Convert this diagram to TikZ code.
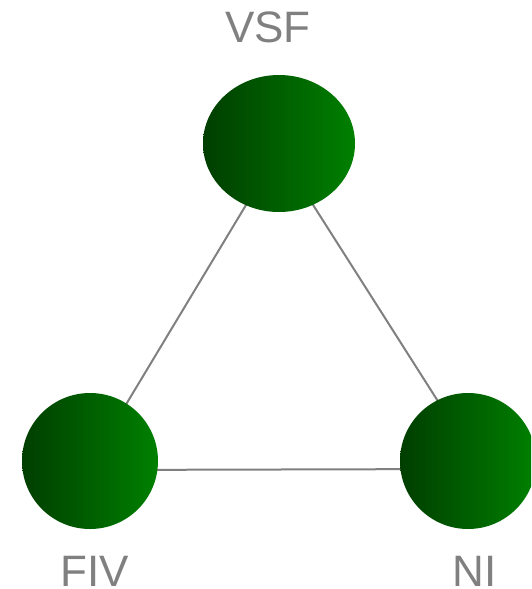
\documentclass[tikz,border=0pt]{standalone}
\usepackage{fontspec}
\setmainfont{Liberation Sans}
\usetikzlibrary{shapes.geometric,backgrounds}
\definecolor{darkgr}{RGB}{0,62,0}
\definecolor{lightgr}{RGB}{0,128,0}
\definecolor{linkgray}{RGB}{128,128,128}
\tikzset{
  vertex/.style={ellipse, inner sep=0pt, draw=none, left color=darkgr, right color=lightgr},
  link/.style={draw=linkgray, line width=2pt},
  tag/.style={anchor=base, text=linkgray, font=\fontsize{44pt}{44pt}\selectfont, inner sep=0pt}
}
\begin{document}
\begin{tikzpicture}[x=1pt,y=-1pt]
\useasboundingbox (0,0) rectangle (531,589);
\begin{scope}
\clip (0,0) rectangle (531,589);
\node[vertex, minimum width=152pt, minimum height=137pt] (vsf) at (279,143.5) {};
\node[vertex, minimum width=136pt, minimum height=136pt] (fiv) at (90,461) {};
\node[vertex, minimum width=136pt, minimum height=136pt] (ni) at (468,461) {};
\begin{scope}[on background layer]
\draw[link] ([xshift=4pt]vsf.center) -- ([xshift=2pt]fiv.center);
\draw[link] ([xshift=-5pt]vsf.center) -- ([xshift=8pt]ni.center);
\draw[link] ([yshift=-9pt]fiv.center) -- ([yshift=-8pt]ni.center);
\end{scope}
\end{scope}
\node[tag] (lvsf) at (268,42) {VSF};
\node[tag] (lfiv) at (94.5,586) {FIV};
\node[tag] (lni) at (474.5,586) {NI};
\end{tikzpicture}
\end{document}
